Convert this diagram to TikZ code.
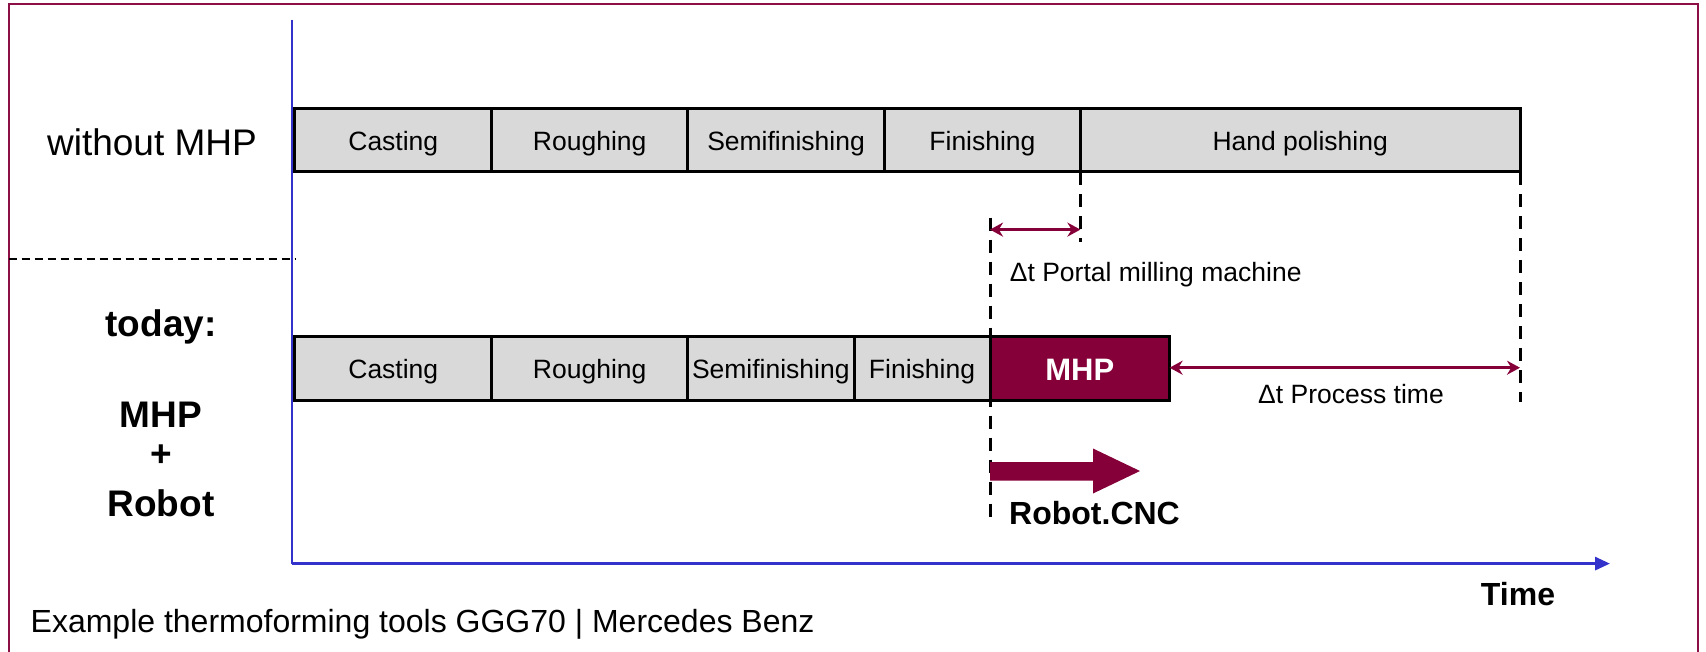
\documentclass[tikz,border=0pt]{standalone}
\usepackage{fontspec}
\setmainfont{Liberation Sans}
\usetikzlibrary{arrows.meta}
\definecolor{crim}{RGB}{133,0,56}
\definecolor{frm}{RGB}{140,16,70}
\definecolor{axblue}{RGB}{51,51,204}
\definecolor{boxgray}{RGB}{217,217,217}
\begin{document}
\begin{tikzpicture}[x=1pt,y=-1pt,
  stage/.style={draw=black, line width=3pt, fill=boxgray, inner sep=0pt, outer sep=0pt,
    minimum height=63pt, anchor=west, text height=20pt, text depth=0pt,
    font=\fontsize{26.5}{30}\selectfont},
  mhpbox/.style={stage, fill=crim, text=white, text height=25pt, font=\fontsize{31}{34}\selectfont\bfseries},
  vdash/.style={draw=black, line width=3pt, dash pattern=on 13pt off 9pt},
  sepdash/.style={draw=black, line width=1.5pt, dash pattern=on 8pt off 5pt},
  dimarrow/.style={draw=crim, line width=3pt, {Stealth[length=13pt,width=14pt]}-{Stealth[length=13pt,width=14pt]}},
  lbl/.style={font=\fontsize{26.5}{30}\selectfont, inner sep=0pt},
  biglbl/.style={font=\fontsize{37}{40}\selectfont, inner sep=0pt},
  boldlbl/.style={font=\fontsize{37}{40}\selectfont\bfseries, inner sep=0pt},
  midlbl/.style={font=\fontsize{32}{36}\selectfont, inner sep=0pt}
]
\useasboundingbox (0,0) rectangle (1706,651);
% frame
\draw[frm, line width=2pt] (8.7,680) -- (8.7,4.4) -- (1698,4.4) -- (1698,680);
% axes
\coordinate (axtop) at (291.6,19.6);
\coordinate (orig) at (291.6,563.6);
\coordinate (axend) at (1610,563.6);
\draw[axblue, line width=2pt] (axtop) -- (orig);
\draw[axblue, line width=3pt, -{Triangle[length=15pt,width=13pt]}] (orig) -- (axend);
% separator
\coordinate (sepl) at (8.7,259);
\coordinate (sepr) at (296,259);
\draw[sepdash] (sepl) -- (sepr);
% row labels
\node[biglbl] (lw) at (152,142.5) {without MHP};
\node[boldlbl] (lt) at (161,326.5) {today:};
\node[boldlbl] (lm) at (161,415) {MHP};
\node[boldlbl] (lp) at (161,456) {+};
\node[boldlbl] (lr) at (161,503) {Robot};
% top row
\node[stage, minimum width=197pt] (a1) at (294.8,140.4) {Casting};
\node[stage, minimum width=195.8pt] (a2) at (491.8,140.4) {Roughing};
\node[stage, minimum width=196.9pt] (a3) at (687.6,140.4) {Semifinishing};
\node[stage, minimum width=195.9pt] (a4) at (884.5,140.4) {Finishing};
\node[stage, minimum width=439.6pt] (a5) at (1080.4,140.4) {Hand polishing};
% bottom row
\node[stage, minimum height=64pt, minimum width=197pt] (b1) at (294.8,368.3) {Casting};
\node[stage, minimum height=64pt, minimum width=195.8pt] (b2) at (491.8,368.3) {Roughing};
\node[stage, minimum height=64pt, minimum width=166.4pt] (b3) at (687.6,368.3) {Semifinishing};
\node[stage, minimum height=64pt, minimum width=136pt] (b4) at (854,368.3) {Finishing};
\node[mhpbox, minimum height=64pt, minimum width=179.6pt] (b5) at (990,368.3) {MHP};
% dashed guides
\coordinate (d1b) at (1080.4,241.5);
\draw[vdash] (a5.south west) -- (d1b);
\coordinate (d2t) at (990,217.6);
\coordinate (d2b) at (990,520);
\draw[vdash] (d2t) -- (d2b);
\coordinate (d3b) at (1520,402);
\draw[vdash] (a5.south east) -- (d3b);
% dimension arrows
\coordinate (p1) at (990,229.6);
\coordinate (p2) at (1080.4,229.6);
\draw[dimarrow] (p1) -- (p2);
\node[lbl, anchor=west] (pl) at (1009.7,274.5) {Δt Portal milling machine};
\coordinate (q2) at (1520,367.7);
\draw[dimarrow] (b5.east |- q2) -- (q2);
\node[lbl] (ql) at (1351,394) {Δt Process time};
% robot arrow
\fill[crim] (990,462) -- (1093,462) -- (1093,448.5) -- (1140,471) -- (1093,493.5) -- (1093,480.5) -- (990,480.5) -- cycle;
\node[midlbl, font=\fontsize{32}{36}\selectfont\bfseries] (rc) at (1094.5,513.5) {Robot.CNC};
\node[midlbl, font=\fontsize{32}{36}\selectfont\bfseries] (tm) at (1518,594) {Time};
\node[midlbl, anchor=west] (ex) at (30.5,624.5) {Example thermoforming tools GGG70 | Mercedes Benz};
\end{tikzpicture}
\end{document}
